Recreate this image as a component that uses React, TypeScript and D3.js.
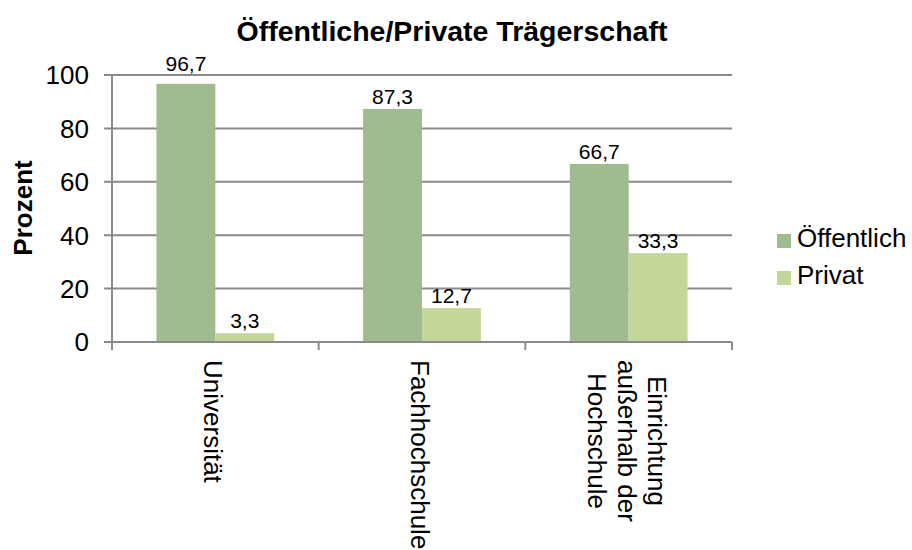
import React from "react";
import * as d3 from "d3";

const categories: string[][] = [
  ["Universität"],
  ["Fachhochschule"],
  ["Einrichtung", "außerhalb der", "Hochschule"],
];
const seriesNames = ["Öffentlich", "Privat"];
const oeffentlich = [96.7, 87.3, 66.7];
const privat = [3.3, 12.7, 33.3];
const yTicks = [0, 20, 40, 60, 80, 100];
const title = "Öffentliche/Private Trägerschaft";
const yLabel = "Prozent";

const W = 912;
const H = 550;
const FONT = "'Liberation Sans', Arial, sans-serif";
const colors = ["#A0BB8D", "#C4D79B"];
const gridColor = "#8A8A8A";

function measure(text: string, size: number): number {
  const c = document.createElement("canvas").getContext("2d");
  if (!c) return text.length * size * 0.5;
  c.font = `${size}px ${FONT}`;
  return c.measureText(text).width;
}

export default function App() {
  const left = 112, right = 732, top = 75, bottom = 342;
  const x0 = d3
    .scaleBand<number>()
    .domain(categories.map((_, i) => i))
    .range([left, right])
    .paddingInner(0)
    .paddingOuter(0);
  const x1 = d3
    .scaleBand<number>()
    .domain([0, 1])
    .range([0, x0.bandwidth()])
    .paddingOuter(0.755)
    .paddingInner(0);
  const y = d3.scaleLinear().domain([0, 100]).range([bottom, top]);
  const series = [oeffentlich, privat];
  const fmt = (v: number) => d3.format(".1f")(v).replace(".", ",");
  const catBounds = d3.range(categories.length + 1).map((i) =>
    i < categories.length ? (x0(i) as number) : right
  );
  const labelSize = 21;

  return (
    <svg
      width={W}
      height={H}
      style={{ position: "absolute", left: 0, top: 0, background: "#fff" }}
      fontFamily={FONT}
    >
      <rect x={0} y={0} width={W} height={H} fill="#fff" />
      <text x={452} y={41} textAnchor="middle" fontSize={28.5} fontWeight="bold" fill="#000">
        {title}
      </text>
      {/* gridlines */}
      {yTicks.map((t) => (
        <line key={t} x1={left - 8} x2={right} y1={y(t)} y2={y(t)} stroke={gridColor} strokeWidth={2} />
      ))}
      {/* y axis */}
      <line x1={left} x2={left} y1={top} y2={bottom + 8} stroke={gridColor} strokeWidth={2} />
      {catBounds.slice(1).map((b, i) => (
        <line key={i} x1={b} x2={b} y1={bottom} y2={bottom + 8} stroke={gridColor} strokeWidth={2} />
      ))}
      {yTicks.map((t) => (
        <text key={t} x={89} y={y(t)} dy="0.36em" textAnchor="end" fontSize={26} fill="#000">
          {t}
        </text>
      ))}
      <text
        transform={`translate(32,208) rotate(-90)`}
        textAnchor="middle"
        fontSize={26}
        fontWeight="bold"
        fill="#000"
      >
        {yLabel}
      </text>
      {/* bars */}
      {series.map((vals, s) =>
        vals.map((v, i) => {
          const bx = (x0(i) as number) + (x1(s) as number);
          return (
            <rect
              key={`${s}-${i}`}
              x={bx}
              y={y(v)}
              width={x1.bandwidth()}
              height={y(0) - y(v)}
              fill={colors[s]}
            />
          );
        })
      )}
      {/* bottom axis line over bars */}
      <line x1={left} x2={right} y1={bottom} y2={bottom} stroke={gridColor} strokeWidth={2} />
      {/* data labels */}
      {series.map((vals, s) =>
        vals.map((v, i) => {
          const bx = (x0(i) as number) + (x1(s) as number) + x1.bandwidth() / 2;
          const b = y(v) - 5;
          const crossesTop = b > y(100) && b - labelSize * 0.75 < y(100);
          const by = crossesTop ? y(100) - 4 : b;
          return (
            <text key={`l${s}-${i}`} x={bx} y={by} textAnchor="middle" fontSize={labelSize} fill="#000">
              {fmt(v)}
            </text>
          );
        })
      )}
      {/* category labels */}
      {categories.map((lines, i) => {
        const cx = (x0(i) as number) + x0.bandwidth() / 2;
        const maxW = d3.max(lines, (l) => measure(l, 26)) as number;
        const cy = bottom + 18 + maxW / 2;
        const n = lines.length;
        return (
          <g key={i}>
            {lines.map((l, j) => {
              const bx = cx - 11 + ((n - 1) / 2 - j) * 30;
              return (
                <text
                  key={j}
                  transform={`translate(${bx},${cy}) rotate(90)`}
                  textAnchor="middle"
                  fontSize={26}
                  fill="#000"
                >
                  {l}
                </text>
              );
            })}
          </g>
        );
      })}
      {/* legend */}
      {seriesNames.map((name, i) => {
        const base = 247 + i * 37;
        return (
          <g key={name}>
            <rect x={777} y={base - 13} width={14} height={14} fill={colors[i]} />
            <text x={797} y={base} fontSize={26} fill="#000">
              {name}
            </text>
          </g>
        );
      })}
    </svg>
  );
}
